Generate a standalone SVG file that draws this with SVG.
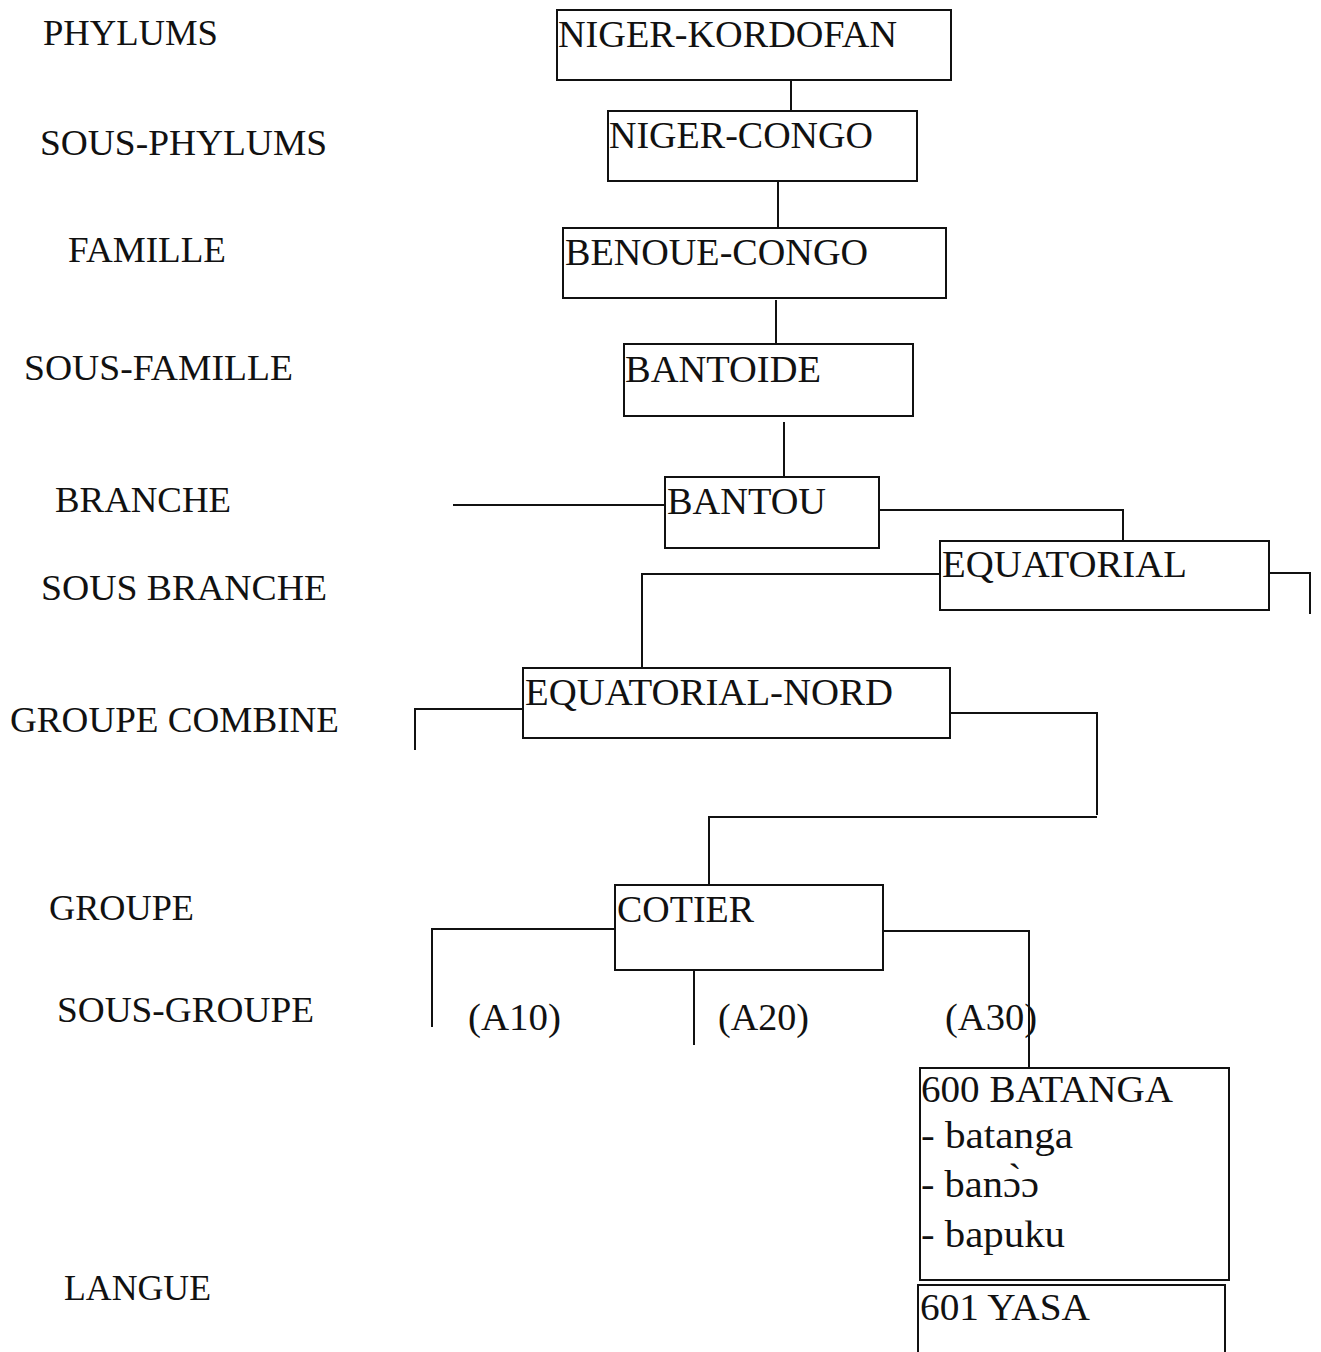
<svg xmlns="http://www.w3.org/2000/svg" width="1321" height="1352" viewBox="0 0 1321 1352">
<style>
.box{fill:none;stroke:#111;stroke-width:2}
.ln{fill:none;stroke:#111;stroke-width:2}
text{font-family:"Liberation Serif","Times New Roman",serif;fill:#111;font-size:37px}
.lbl{font-size:36px}
</style>
<rect width="1321" height="1352" fill="#fff"/>
<g id="levels">
<text class="lbl" x="43" y="45" textLength="175" lengthAdjust="spacingAndGlyphs">PHYLUMS</text>
<text class="lbl" x="40" y="155" textLength="287" lengthAdjust="spacingAndGlyphs">SOUS-PHYLUMS</text>
<text class="lbl" x="68" y="262" textLength="158" lengthAdjust="spacingAndGlyphs">FAMILLE</text>
<text class="lbl" x="24" y="380" textLength="269" lengthAdjust="spacingAndGlyphs">SOUS-FAMILLE</text>
<text class="lbl" x="55" y="512" textLength="176" lengthAdjust="spacingAndGlyphs">BRANCHE</text>
<text class="lbl" x="41" y="600" textLength="286" lengthAdjust="spacingAndGlyphs">SOUS BRANCHE</text>
<text class="lbl" x="10" y="732" textLength="329" lengthAdjust="spacingAndGlyphs">GROUPE COMBINE</text>
<text class="lbl" x="49" y="920" textLength="145" lengthAdjust="spacingAndGlyphs">GROUPE</text>
<text class="lbl" x="57" y="1022" textLength="257" lengthAdjust="spacingAndGlyphs">SOUS-GROUPE</text>
<text class="lbl" x="64" y="1300" textLength="147" lengthAdjust="spacingAndGlyphs">LANGUE</text>
</g>
<g id="connectors">
<path class="ln" d="M791 80V111"/>
<path class="ln" d="M778 181V228"/>
<path class="ln" d="M776 300V344"/>
<path class="ln" d="M784 422V477"/>
<path class="ln" d="M453 505H665"/>
<path class="ln" d="M879 510H1123V541"/>
<path class="ln" d="M940 574H642V668"/>
<path class="ln" d="M1269 573H1310V614"/>
<path class="ln" d="M523 709H415V750"/>
<path class="ln" d="M950 713H1097V815"/>
<path class="ln" d="M1097 817H709V885"/>
<path class="ln" d="M615 929H432V1027"/>
<path class="ln" d="M694 970V1045"/>
<path class="ln" d="M883 931H1029V1068"/>
</g>
<g id="n-niger-kordofan"><rect class="box" x="557" y="10" width="394" height="70"/><text x="558" y="47" textLength="339" lengthAdjust="spacingAndGlyphs">NIGER-KORDOFAN</text></g>
<g id="n-niger-congo"><rect class="box" x="608" y="111" width="309" height="70"/><text x="609" y="148" textLength="264" lengthAdjust="spacingAndGlyphs">NIGER-CONGO</text></g>
<g id="n-benoue-congo"><rect class="box" x="563" y="228" width="383" height="70"/><text x="565" y="265" textLength="303" lengthAdjust="spacingAndGlyphs">BENOUE-CONGO</text></g>
<g id="n-bantoide"><rect class="box" x="624" y="344" width="289" height="72"/><text x="625" y="382" textLength="196" lengthAdjust="spacingAndGlyphs">BANTOIDE</text></g>
<g id="n-bantou"><rect class="box" x="665" y="477" width="214" height="71"/><text x="667" y="514" textLength="159" lengthAdjust="spacingAndGlyphs">BANTOU</text></g>
<g id="n-equatorial"><rect class="box" x="940" y="541" width="329" height="69"/><text x="942" y="577" textLength="245" lengthAdjust="spacingAndGlyphs">EQUATORIAL</text></g>
<g id="n-equatorial-nord"><rect class="box" x="523" y="668" width="427" height="70"/><text x="525" y="705" textLength="368" lengthAdjust="spacingAndGlyphs">EQUATORIAL-NORD</text></g>
<g id="n-cotier"><rect class="box" x="615" y="885" width="268" height="85"/><text x="617" y="922" textLength="137" lengthAdjust="spacingAndGlyphs">COTIER</text></g>
<g id="sub-groups">
<text x="468" y="1030" textLength="93" lengthAdjust="spacingAndGlyphs">(A10)</text>
<text x="718" y="1030" textLength="91" lengthAdjust="spacingAndGlyphs">(A20)</text>
<text x="945" y="1030" textLength="92" lengthAdjust="spacingAndGlyphs">(A30)</text>
</g>
<g id="n-batanga"><rect class="box" x="920" y="1068" width="309" height="212"/>
<text x="921" y="1102" textLength="252" lengthAdjust="spacingAndGlyphs">600 BATANGA</text>
<text x="921" y="1148" textLength="152" lengthAdjust="spacingAndGlyphs">- batanga</text>
<text x="921" y="1197" textLength="118" lengthAdjust="spacingAndGlyphs">- ban&#x254;&#x300;&#x254;</text>
<text x="921" y="1247" textLength="144" lengthAdjust="spacingAndGlyphs">- bapuku</text>
</g>
<g id="n-yasa"><path class="box" d="M918 1360V1285H1225V1360"/><text x="920" y="1320" textLength="170" lengthAdjust="spacingAndGlyphs">601 YASA</text></g>
</svg>
